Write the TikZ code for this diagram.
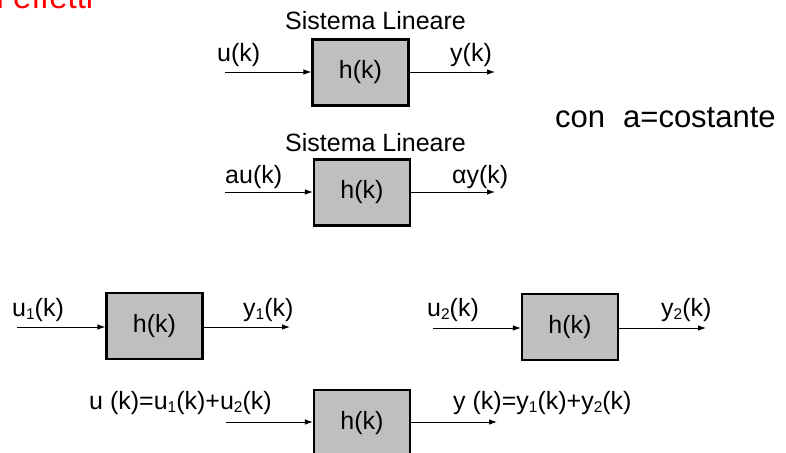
\documentclass[tikz,border=0pt]{standalone}
\usepackage{fontspec}
\setmainfont{Liberation Sans}
\usetikzlibrary{arrows.meta}
% lowered, smaller index digit
\newcommand\idx[1]{\raisebox{-3.5pt}{\fontsize{15.5}{17}\selectfont #1}}
\begin{document}
\begin{tikzpicture}[x=1pt,y=-1pt,
  blk/.style={draw=black,line width=2.2pt,fill=black!25,minimum width=96pt,minimum height=66pt,inner sep=0pt,font=\fontsize{25}{28}\selectfont},
  lbl/.style={anchor=base west,inner sep=0pt,font=\fontsize{25}{28}\selectfont},
  sig/.style={line width=0.9pt,-{Latex[length=8pt,width=5.5pt]}}]
\useasboundingbox (0,0) rectangle (786,452);
\fill[white] (0,0) rectangle (786,452);
% title, partly above the frame
\node[anchor=base west,inner sep=0pt,text=red,font=\fontsize{33}{36}\selectfont] (tit) at (-3.5,9) {i effetti};
% first system
\node[lbl] (sl1) at (285,30) {Sistema Lineare};
\node[blk] (b1) at (360.5,72.5) {h(k)};
\coordinate (i1) at (225,72);
\coordinate (o1) at (495,72);
\draw[sig] (i1) -- (i1 -| b1.west);
\draw[sig] (o1 -| b1.east) -- (o1);
\node[lbl] (u1) at (217,62) {u(k)};
\node[lbl] (y1) at (450,62) {y(k)};
% scaled input
\node[lbl] (sl2) at (285,151) {Sistema Lineare};
\node[blk] (b2) at (362,192.5) {h(k)};
\coordinate (i2) at (225,192);
\coordinate (o2) at (495,192);
\draw[sig] (i2) -- (i2 -| b2.west);
\draw[sig] (o2 -| b2.east) -- (o2);
\node[lbl] (u2) at (225,183) {au(k)};
\node[lbl] (y2) at (452,183) {αy(k)};
\node[anchor=base west,inner sep=0pt,font=\fontsize{31}{34}\selectfont] (cst) at (555,127) {con\hspace{18pt}a=costante};
% two separate inputs
\node[blk] (b3) at (154.5,326) {h(k)};
\coordinate (i3) at (17,327);
\coordinate (o3) at (290,327);
\draw[sig] (i3) -- (i3 -| b3.west);
\draw[sig] (o3 -| b3.east) -- (o3);
\node[lbl] (u3) at (12,316) {u\idx{1}(k)};
\node[lbl] (y3) at (243,316) {y\idx{1}(k)};
\node[blk] (b4) at (570,327) {h(k)};
\coordinate (i4) at (433,328);
\coordinate (o4) at (706,328);
\draw[sig] (i4) -- (i4 -| b4.west);
\draw[sig] (o4 -| b4.east) -- (o4);
\node[lbl] (u4) at (427,316) {u\idx{2}(k)};
\node[lbl] (y4) at (661,316) {y\idx{2}(k)};
% sum of the inputs
\node[blk] (b5) at (362,423) {h(k)};
\coordinate (i5) at (226,422);
\coordinate (o5) at (497,422);
\draw[sig] (i5) -- (i5 -| b5.west);
\draw[sig] (o5 -| b5.east) -- (o5);
\node[lbl] (u5) at (89,409) {u (k)=u\idx{1}(k)+u\idx{2}(k)};
\node[lbl] (y5) at (453,409) {y (k)=y\idx{1}(k)+y\idx{2}(k)};
\end{tikzpicture}
\end{document}
